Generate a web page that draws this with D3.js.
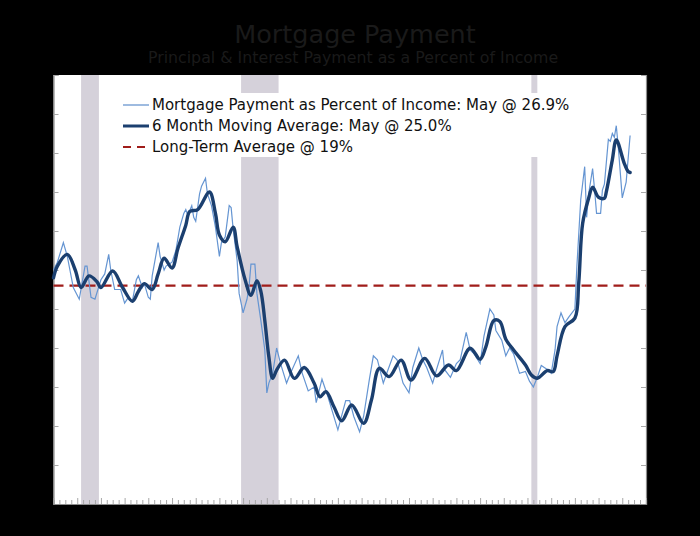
<!DOCTYPE html>
<html><head><meta charset="utf-8">
<script src="https://cdn.jsdelivr.net/npm/d3@7"></script>
<style>
html,body{margin:0;padding:0;background:#000;}
svg{display:block;}
text{font-family:Verdana,"DejaVu Sans",sans-serif;}
</style></head>
<body>
<svg id="chart" width="700" height="536"></svg>
<script>
// ---- data ----
const titleText = "Mortgage Payment";
const subtitleText = "Principal & Interest Payment as a Percent of Income";
const legendLabels = [
  "Mortgage Payment as Percent of Income: May @ 26.9%",
  "6 Month Moving Average: May @ 25.0%",
  "Long-Term Average @ 19%"
];
const longTermAverage = 19.2;
const yTicks = [8,10,12,14,16,18,20,22,24,26,28,30];

const rawDates = ["2000-01","2000-03","2000-06","2000-08","2000-11","2001-02","2001-05","2001-06","2001-08","2001-10",
"2002-01","2002-03","2002-05","2002-06","2002-08","2002-11","2003-01","2003-03","2003-05","2003-07","2003-08","2003-10","2003-11",
"2004-01","2004-02","2004-03","2004-06","2004-07","2004-09","2004-10","2005-01","2005-03","2005-05","2005-07","2005-08","2005-09","2005-11","2005-12",
"2006-01","2006-03","2006-04","2006-06","2006-07","2006-09","2006-11","2007-01","2007-02","2007-04","2007-06","2007-07","2007-08","2007-10","2007-11",
"2008-01","2008-03","2008-04","2008-05","2008-07","2008-08","2008-10","2008-12","2009-01","2009-02","2009-04","2009-06","2009-08","2009-11",
"2010-01","2010-05","2010-07","2010-10","2011-01","2011-02","2011-05","2011-08","2012-01","2012-05","2012-07","2012-09","2012-12",
"2013-02","2013-05","2013-07","2013-09","2013-12","2014-01","2014-05","2014-07","2014-10","2015-01","2015-03","2015-06","2015-08","2015-10",
"2016-01","2016-03","2016-06","2016-07","2016-10","2017-01","2017-03","2017-06","2017-08","2017-10","2018-01","2018-03","2018-06","2018-08","2018-09","2018-12",
"2019-02","2019-04","2019-06","2019-09","2019-12","2020-02","2020-04","2020-06","2020-08","2020-11","2021-01","2021-03","2021-04","2021-06","2021-08","2021-10",
"2022-01","2022-02","2022-04","2022-06","2022-07","2022-08","2022-10","2022-11","2022-12","2023-02","2023-03","2023-04","2023-06","2023-07","2023-08","2023-09","2023-10","2023-11",
"2024-01","2024-03","2024-05"];
const rawValues = [20.0,20.4,21.4,20.7,19.1,18.5,20.2,20.2,18.6,18.5,
19.5,19.8,20.8,20.0,19.0,19.0,18.3,18.6,18.4,19.5,19.7,19.1,19.3,
18.6,18.5,19.7,21.4,20.7,20.0,20.2,20.4,21.0,22.2,22.9,23.1,22.8,23.3,22.7,
22.5,23.9,24.3,24.7,23.9,23.3,22.2,20.7,21.4,21.7,23.3,23.2,22.1,20.5,18.8,
17.8,18.5,19.1,20.3,20.3,18.8,17.4,15.9,13.7,14.2,14.7,16.0,15.2,14.2,
14.7,15.6,14.7,13.8,14.0,13.2,14.4,13.5,11.8,13.3,13.3,12.5,11.7,
12.5,14.4,15.6,15.4,14.2,14.5,15.6,15.4,14.2,13.7,15.0,16.0,15.4,15.0,
14.2,14.9,15.9,14.9,14.5,15.2,15.4,16.8,15.9,15.7,15.2,16.6,18.0,17.7,16.9,16.4,
15.6,16.0,15.7,14.7,14.8,14.3,14.0,14.5,15.1,14.9,14.7,15.9,17.1,17.8,17.3,17.6,
18.0,20.2,23.6,25.3,22.7,23.9,25.2,24.1,22.9,22.9,24.1,24.4,26.7,26.6,27.0,26.8,27.4,26.3,
23.7,24.5,26.9];

const maDates = ["2000-01","2000-03","2000-08","2000-12","2001-03","2001-07","2001-11","2002-01","2002-07","2002-12",
"2003-05","2003-08","2003-11","2004-03","2004-06","2004-09","2005-01","2005-04","2005-08","2005-10","2006-02","2006-08","2006-11",
"2007-01","2007-04","2007-08","2007-10","2008-02","2008-05","2008-08","2008-10","2008-12","2009-02","2009-04","2009-06","2009-10",
"2010-03","2010-08","2011-01","2011-04","2011-07","2011-11","2012-03","2012-08","2013-02","2013-06","2013-10","2014-03","2014-09",
"2015-02","2015-09","2016-03","2016-09","2017-01","2017-08","2018-01","2018-04","2018-08","2018-11","2019-02","2019-06","2019-12",
"2020-03","2020-06","2020-11","2021-02","2021-04","2021-08","2022-01","2022-03","2022-05","2022-08","2022-10","2023-01","2023-04","2023-05",
"2023-08","2023-10","2024-02","2024-04","2024-05"];
const maValues = [19.6,20.2,20.8,20.0,19.1,19.7,19.4,19.1,19.95,19.1,
18.4,18.9,19.3,19.0,19.8,20.6,20.1,21.1,22.3,23.0,23.1,24.0,22.9,
21.8,21.45,22.2,21.2,19.5,18.7,19.45,18.9,17.4,15.55,14.44,14.87,15.38,
14.44,15.0,14.19,13.5,13.76,12.99,12.27,13.08,12.14,13.33,14.96,14.53,15.38,
14.36,15.47,14.57,15.13,14.84,15.99,15.42,16.07,17.41,17.36,16.45,15.9,15.13,
14.62,14.45,14.84,14.79,15.6,17.1,17.53,19.32,22.4,23.68,24.24,23.73,23.68,24.02,
25.65,26.67,25.47,25.05,25.0];

const recessionStarts = ["2001-03","2007-12","2020-03"];
const recessionEnds   = ["2001-12","2009-07","2020-06"];
const xDomain = ["2000-01","2025-01"];

// ---- drawing ----
const parse = d3.timeParse("%Y-%m");
const svg = d3.select("#chart");
const L = 53.5, R = 646, T = 75, B = 504;

const x = d3.scaleTime().domain(xDomain.map(parse)).range([L, R]);
const y = d3.scaleLinear().domain([8, 30]).range([B, T]);

// title
svg.append("text").attr("x", 355).attr("y", 43).attr("text-anchor", "middle")
  .attr("font-size", 25.5).attr("fill", "#1a1a1a").text(titleText);
svg.append("text").attr("x", 353).attr("y", 63).attr("text-anchor", "middle")
  .attr("font-size", 15.8).attr("fill", "#1a1a1a").text(subtitleText);

// plot background
svg.append("rect").attr("x", L).attr("y", T).attr("width", R - L).attr("height", B - T).attr("fill", "#fff");

// recession bands
svg.append("g").selectAll("rect").data(recessionStarts.map((s, i) => [parse(s), parse(recessionEnds[i])]))
  .join("rect")
  .attr("x", d => x(d[0])).attr("width", d => x(d[1]) - x(d[0]))
  .attr("y", T).attr("height", B - T).attr("fill", "#d5d1da");

// axes
const axisColor = "#8d8d8d";
const yLeft = svg.append("g").attr("transform", `translate(${L},0)`)
  .call(d3.axisRight(y).tickValues(yTicks).tickSize(5).tickFormat(""));
const yRight = svg.append("g").attr("transform", `translate(${R},0)`)
  .call(d3.axisLeft(y).tickValues(yTicks).tickSize(5).tickFormat(""));
const xAxis = svg.append("g").attr("transform", `translate(0,${B})`)
  .call(d3.axisTop(x).ticks(d3.timeMonth.every(3)).tickSize(4).tickFormat(""));
[yLeft, yRight, xAxis].forEach(g => {
  g.selectAll("path").attr("stroke", axisColor).attr("stroke-width", 1.2);
  g.selectAll("line").attr("stroke", "#a8a8a8");
});
xAxis.selectAll(".tick").filter(d => d.getMonth() === 0).select("line").attr("y2", -6);

// long-term average
svg.append("line").attr("x1", L).attr("x2", R)
  .attr("y1", y(longTermAverage)).attr("y2", y(longTermAverage))
  .attr("stroke", "#a01d1a").attr("stroke-width", 2.2).attr("stroke-dasharray", "10,6");

const raw = rawDates.map((d, i) => ({ date: parse(d), value: rawValues[i] }));
const ma = maDates.map((d, i) => ({ date: parse(d), value: maValues[i] }));

svg.append("path").datum(raw)
  .attr("d", d3.line().x(d => x(d.date)).y(d => y(d.value)))
  .attr("fill", "none").attr("stroke", "#6595d2").attr("stroke-width", 1.2);

svg.append("path").datum(ma)
  .attr("d", d3.line().x(d => x(d.date)).y(d => y(d.value)).curve(d3.curveCatmullRom.alpha(0.5)))
  .attr("fill", "none").attr("stroke", "#1b3f6f").attr("stroke-width", 3.4)
  .attr("stroke-linejoin", "round").attr("stroke-linecap", "round");

// legend
const lg = svg.append("g");
lg.append("rect").attr("x", 112).attr("y", 93).attr("width", 470).attr("height", 64).attr("fill", "#fff");
const rowY = [105, 126, 147];
const styles = [
  { stroke: "#7ea4d6", width: 1.5, dash: null },
  { stroke: "#1b3f6f", width: 3, dash: null },
  { stroke: "#a01d1a", width: 2.2, dash: "8,6" }
];
rowY.forEach((ry, i) => {
  lg.append("line").attr("x1", 123).attr("x2", 149).attr("y1", ry).attr("y2", ry)
    .attr("stroke", styles[i].stroke).attr("stroke-width", styles[i].width)
    .attr("stroke-dasharray", styles[i].dash);
  lg.append("text").attr("x", 152).attr("y", ry + 5).attr("font-size", 15)
    .attr("fill", "#111").text(legendLabels[i]);
});
</script>
</body></html>
